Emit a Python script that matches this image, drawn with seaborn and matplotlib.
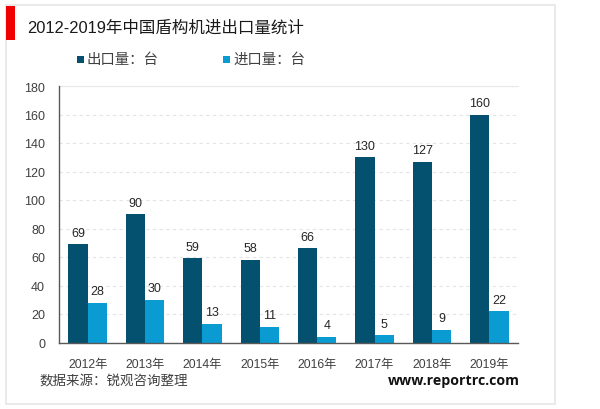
"""2012-2019 shield machine import/export chart."""
import matplotlib

matplotlib.use("Agg")
import matplotlib.pyplot as plt
import pandas as pd
import seaborn as sns
from matplotlib.patches import Rectangle

YEARS = ["2012年", "2013年", "2014年", "2015年", "2016年", "2017年", "2018年", "2019年"]
EXPORTS = [69, 90, 59, 58, 66, 130, 127, 160]
IMPORTS = [28, 30, 13, 11, 4, 5, 9, 22]
SERIES = ["出口量：台", "进口量：台"]
COLORS = ["#04516F", "#0A9BD3"]
YTICKS = [0, 20, 40, 60, 80, 100, 120, 140, 160, 180]

W, H = 600, 410

sns.set_theme(style="white")
plt.rcParams["font.family"] = ["Liberation Sans", "Noto Sans CJK SC", "DejaVu Sans"]

df = pd.DataFrame(
    {
        "year": YEARS * 2,
        "value": EXPORTS + IMPORTS,
        "series": [SERIES[0]] * len(YEARS) + [SERIES[1]] * len(YEARS),
    }
)

fig = plt.figure(figsize=(W / 100, H / 100), dpi=100)
# axes placed in pixel terms, y measured from the top of the image
ax = fig.add_axes([59 / W, 1 - 343.5 / H, 459 / W, 256.5 / H])

sns.barplot(
    data=df, x="year", y="value", hue="series", hue_order=SERIES,
    palette=COLORS, width=0.67, gap=0, saturation=1, linewidth=0, legend=False, ax=ax,
)
for container in ax.containers:
    ax.bar_label(container, padding=4, fontsize=9, color="#262626")

ax.set_xlim(-0.5, len(YEARS) - 0.5)
ax.set_ylim(0, 180)
ax.set_yticks(YTICKS)
ax.set_xlabel("")
ax.set_ylabel("")
ax.tick_params(axis="x", length=0, pad=11, labelsize=8.8, labelcolor="#404040")
ax.tick_params(axis="y", length=0, pad=10, labelsize=9, labelcolor="#404040")
ax.yaxis.grid(True, linestyle=(0, (3, 3)), color="#E4E4E4", linewidth=0.8)
ax.set_axisbelow(True)
sns.despine(ax=ax, top=True, right=True)
for side in ("left", "bottom"):
    ax.spines[side].set_color("#595959")
    ax.spines[side].set_linewidth(1.0)
ax.plot([0, 1], [1, 1], transform=ax.transAxes, color="#E8E8E8", lw=0.8, clip_on=False)

# outer frame and red title marker
fig.add_artist(Rectangle((6 / W, 1 - 405 / H), 549 / W, 399 / H, transform=fig.transFigure,
                         fill=False, edgecolor="#E6E6E6", lw=1.2))
fig.add_artist(Rectangle((6 / W, 1 - 40.5 / H), 9.5 / W, 34 / H, transform=fig.transFigure,
                         facecolor="#F00000", edgecolor="none"))

fig.text(27 / W, 1 - 28 / H, "2012-2019年中国盾构机进出口量统计", fontsize=11.9,
         color="#1A1A1A", va="center", ha="left")

# legend
for x0, color, label in [(77, COLORS[0], SERIES[0]), (223, COLORS[1], SERIES[1])]:
    fig.add_artist(Rectangle((x0 / W, 1 - 63.5 / H), 7 / W, 7 / H, transform=fig.transFigure,
                             facecolor=color, edgecolor="none"))
    fig.text((x0 + 10) / W, 1 - 60 / H, label, fontsize=10.4, color="#404040", va="center", ha="left")

fig.text(40 / W, 1 - 381 / H, "数据来源：锐观咨询整理", fontsize=9.7, color="#404040", va="center", ha="left")
fig.text(520 / W, 1 - 381 / H, "www.reportrc.com", fontsize=10.2, fontweight="bold",
         family=["Open Sans", "DejaVu Sans"], color="#111111", va="center", ha="right")

fig.savefig("out.png", dpi=100)
